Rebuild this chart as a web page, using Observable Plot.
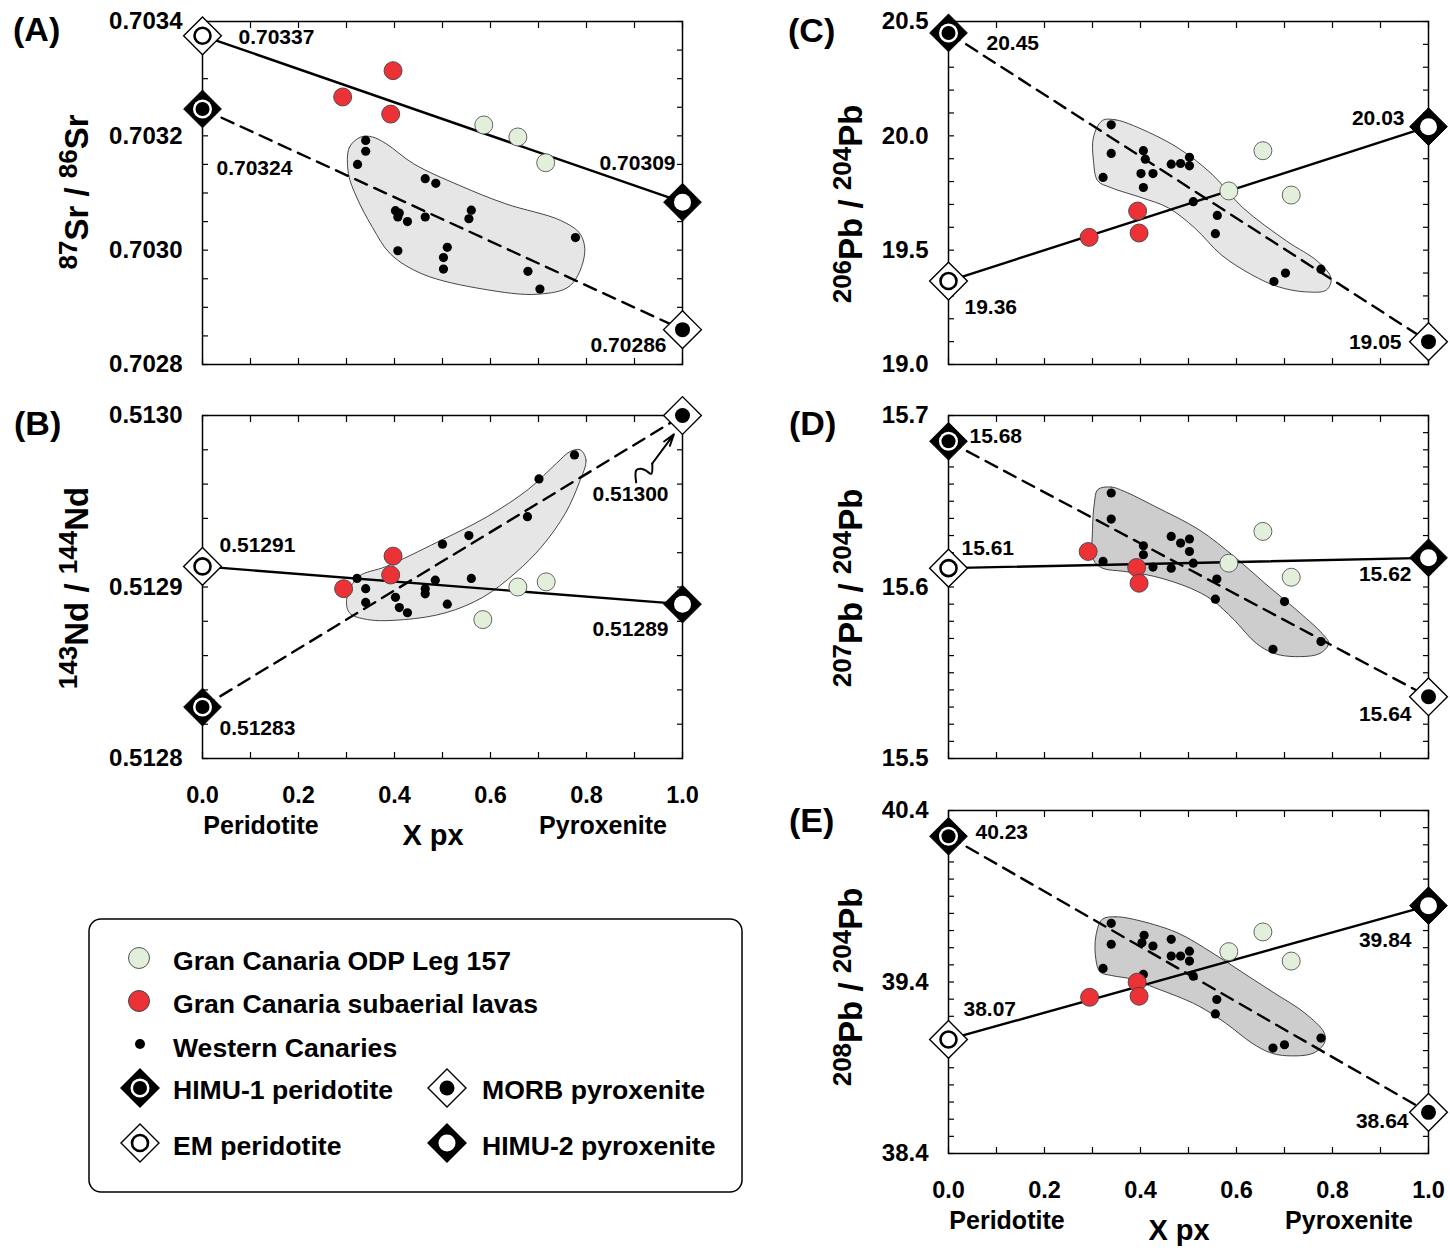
<!DOCTYPE html>
<html><head><meta charset="utf-8">
<script src="https://cdn.jsdelivr.net/npm/d3@7"></script>
<script src="https://cdn.jsdelivr.net/npm/@observablehq/plot@0.6"></script>
<style>
html,body{margin:0;padding:0;background:#fff;}
#page{position:relative;width:1450px;height:1251px;overflow:hidden;background:#fff;font-family:'Liberation Sans',Arial,Helvetica,sans-serif;}
.panel{position:absolute;}
#overlay{position:absolute;left:0;top:0;pointer-events:none;}
</style></head><body><div id="page"></div>
<script>
// ---------------- DATA ----------------
const xMajorTicks = [0, 0.2, 0.4, 0.6, 0.8, 1.0];
const xMinorTicks = d3.range(0, 1.0001, 0.1);
const endX = [0, 0, 1, 1]; // EM peridotite, HIMU-1 peridotite, HIMU-2 pyroxenite, MORB pyroxenite

// (A) 87Sr/86Sr
const srMajor = [0.7028, 0.7030, 0.7032, 0.7034];
const srMinor = d3.range(0.7028, 0.703401, 0.00005);
const srOdpX = [0.586, 0.657, 0.715];
const srOdpY = [0.703219, 0.703198, 0.703153];
const srLavaX = [0.292, 0.397, 0.392];
const srLavaY = [0.703268, 0.703314, 0.703238];
const srWcX = [0.340, 0.340, 0.323, 0.464, 0.486, 0.402, 0.410, 0.407, 0.427, 0.464, 0.560, 0.555, 0.777, 0.407, 0.510, 0.502, 0.502, 0.678, 0.703];
const srWcY = [0.703192, 0.703173, 0.703150, 0.703125, 0.703117, 0.703069, 0.703065, 0.703058, 0.703050, 0.703058, 0.703070, 0.703055, 0.703022, 0.702999, 0.703005, 0.702987, 0.702967, 0.702963, 0.702932];
const srBlobX = [0.330, 0.306, 0.304, 0.321, 0.354, 0.392, 0.459, 0.584, 0.699, 0.766, 0.796, 0.787, 0.746, 0.632, 0.536, 0.440, 0.383, 0.354];
const srBlobY = [0.703198, 0.703180, 0.703134, 0.703093, 0.703040, 0.702993, 0.702958, 0.702932, 0.702923, 0.702938, 0.702993, 0.703028, 0.703052, 0.703081, 0.703113, 0.703151, 0.703186, 0.703198];
const srEnd = [0.703375, 0.703247, 0.703084, 0.702861];
const srEndLabels = ["0.70337", "0.70324", "0.70309", "0.70286"];

// (B) 143Nd/144Nd
const ndMajor = [0.5128, 0.5129, 0.5130];
const ndMinor = d3.range(0.5128, 0.513001, 0.00002);
const ndOdpX = [0.584, 0.657, 0.716];
const ndOdpY = [0.512881, 0.512900, 0.512903];
const ndLavaX = [0.294, 0.397, 0.392];
const ndLavaY = [0.512899, 0.512918, 0.512907];
const ndWcX = [0.775, 0.701, 0.677, 0.555, 0.500, 0.560, 0.485, 0.322, 0.340, 0.464, 0.464, 0.402, 0.340, 0.510, 0.410, 0.427];
const ndWcY = [0.512977, 0.512963, 0.512941, 0.512930, 0.512925, 0.512905, 0.512904, 0.512905, 0.512899, 0.512899, 0.512896, 0.512894, 0.512891, 0.512890, 0.512888, 0.512885];
const ndBlobX = [0.787, 0.799, 0.785, 0.756, 0.708, 0.651, 0.584, 0.507, 0.421, 0.344, 0.306, 0.301, 0.325, 0.383, 0.488, 0.593, 0.679, 0.737, 0.766];
const ndBlobY = [0.512980, 0.512974, 0.512961, 0.512943, 0.512924, 0.512908, 0.512894, 0.512885, 0.512881, 0.512881, 0.512885, 0.512894, 0.512906, 0.512912, 0.512926, 0.512941, 0.512957, 0.512972, 0.512979];
const ndEnd = [0.512912, 0.512830, 0.512890, 0.513000];
const ndEndLabels = ["0.51291", "0.51283", "0.51289", "0.51300"];
const ndArrowX = [0.9035, 0.9035, 0.9125, 0.923, 0.935, 0.937];
const ndArrowY = [0.512961, 0.512968, 0.512969, 0.512968, 0.512966, 0.512972];
const ndArrowTip = [0.982, 0.512989];

// (C) 206Pb/204Pb
const pb6Major = [19.0, 19.5, 20.0, 20.5];
const pb6Minor = d3.range(19.0, 20.501, 0.1);
const pb6OdpX = [0.584, 0.655, 0.714];
const pb6OdpY = [19.759, 19.935, 19.741];
const pb6LavaX = [0.293, 0.394, 0.397];
const pb6LavaY = [19.556, 19.671, 19.575];
const pb6WcX = [0.339, 0.339, 0.322, 0.406, 0.410, 0.401, 0.426, 0.406, 0.464, 0.4835, 0.502, 0.502, 0.510, 0.560, 0.556, 0.776, 0.702, 0.678];
const pb6WcY = [20.048, 19.923, 19.818, 19.935, 19.898, 19.835, 19.835, 19.774, 19.876, 19.879, 19.906, 19.869, 19.712, 19.652, 19.572, 19.417, 19.400, 19.363];
const pb6BlobX = [0.3205, 0.348, 0.385, 0.476, 0.549, 0.6135, 0.705, 0.769, 0.797, 0.7875, 0.742, 0.687, 0.632, 0.568, 0.513, 0.458, 0.403, 0.339, 0.311, 0.302, 0.302];
const pb6BlobY = [20.067, 20.070, 20.045, 19.950, 19.832, 19.685, 19.539, 19.451, 19.377, 19.326, 19.318, 19.340, 19.392, 19.480, 19.597, 19.685, 19.729, 19.773, 19.803, 19.891, 19.994];
const pb6End = [19.365, 20.45, 20.04, 19.10];
const pb6EndLabels = ["19.36", "20.45", "20.03", "19.05"];

// (D) 207Pb/204Pb
const pb7Major = [15.5, 15.6, 15.7];
const pb7Minor = d3.range(15.5, 15.70001, 0.01);
const pb7OdpX = [0.655, 0.584, 0.714];
const pb7OdpY = [15.6324, 15.6139, 15.6057];
const pb7LavaX = [0.291, 0.392, 0.397];
const pb7LavaY = [15.6207, 15.6114, 15.6022];
const pb7WcX = [0.339, 0.339, 0.322, 0.406, 0.406, 0.426, 0.464, 0.4835, 0.502, 0.502, 0.510, 0.464, 0.559, 0.556, 0.700, 0.776, 0.676];
const pb7WcY = [15.6548, 15.6396, 15.6149, 15.6240, 15.6188, 15.6116, 15.6295, 15.6256, 15.6280, 15.6207, 15.6139, 15.6110, 15.6046, 15.5929, 15.5915, 15.5682, 15.5637];
const pb7BlobX = [0.311, 0.339, 0.366, 0.430, 0.522, 0.595, 0.659, 0.733, 0.778, 0.792, 0.774, 0.723, 0.678, 0.641, 0.595, 0.549, 0.504, 0.430, 0.366, 0.3205, 0.302, 0.300, 0.304];
const pb7BlobY = [15.6568, 15.6583, 15.6558, 15.6470, 15.6334, 15.6178, 15.6022, 15.5847, 15.5730, 15.5672, 15.5613, 15.5594, 15.5613, 15.5672, 15.5808, 15.5925, 15.5993, 15.6061, 15.6091, 15.6110, 15.6159, 15.6334, 15.6490];
const pb7End = [15.611, 15.685, 15.617, 15.536];
const pb7EndLabels = ["15.61", "15.68", "15.62", "15.64"];

// (E) 208Pb/204Pb
const pb8Major = [38.4, 39.4, 40.4];
const pb8Minor = d3.range(38.4, 40.401, 0.1);
const pb8OdpX = [0.584, 0.655, 0.714];
const pb8OdpY = [39.577, 39.692, 39.522];
const pb8LavaX = [0.294, 0.393, 0.397];
const pb8LavaY = [39.311, 39.399, 39.317];
const pb8WcX = [0.339, 0.339, 0.322, 0.4075, 0.403, 0.426, 0.464, 0.464, 0.4835, 0.502, 0.502, 0.406, 0.510, 0.559, 0.556, 0.776, 0.700, 0.676];
const pb8WcY = [39.742, 39.620, 39.479, 39.672, 39.629, 39.610, 39.649, 39.551, 39.551, 39.580, 39.522, 39.444, 39.434, 39.298, 39.214, 39.073, 39.034, 39.015];
const pb8BlobX = [0.3205, 0.348, 0.385, 0.476, 0.549, 0.6135, 0.678, 0.742, 0.783, 0.783, 0.760, 0.705, 0.669, 0.632, 0.577, 0.522, 0.476, 0.430, 0.385, 0.339, 0.316, 0.307, 0.307];
const pb8BlobY = [39.766, 39.780, 39.766, 39.688, 39.571, 39.454, 39.337, 39.220, 39.102, 39.044, 38.985, 38.970, 38.989, 39.044, 39.161, 39.259, 39.317, 39.366, 39.415, 39.438, 39.458, 39.532, 39.668];
const pb8End = [39.065, 40.25, 39.845, 38.64];
const pb8EndLabels = ["38.07", "40.23", "39.84", "38.64"];

// legend entries
const legendItems = ["Gran Canaria ODP Leg 157", "Gran Canaria subaerial lavas", "Western Canaries", "HIMU-1 peridotite", "MORB pyroxenite", "EM peridotite", "HIMU-2 pyroxenite"];

// ---------------- LAYOUT / STYLE ----------------
const RED = "#ed3237", GREEN = "#e2efda", GRAY1 = "#e6e6e6", GRAY2 = "#cdcdcd";
const FONT = "'Liberation Sans', Arial, Helvetica, sans-serif";
const PW = 480, PH = 343, ML = 130, MR = 45, MT = 25, MB = 60;
// label offsets [dx, dy, anchor] for EM, HIMU-1, HIMU-2, MORB
const layoutA = [[36, 1, "start"], [14, 59, "start"], [-7, -39, "end"], [-16, 16, "end"]];
const layoutB = [[17, -21, "start"], [17, 21, "start"], [-14, 25, "end"], [-14, 79, "end"]];
const layoutC = [[16, 26, "start"], [38, 10, "start"], [-24, -8, "end"], [-27, 1, "end"]];
const layoutD = [[13, -20, "start"], [21, -5, "start"], [-17, 16, "end"], [-17, 18, "end"]];
const layoutE = [[15, -30, "start"], [27, -4, "start"], [-17, 35, "end"], [-20, 9, "end"]];

const pts = (xs, ys) => xs.map((x, i) => ({x, y: ys[i]}));

function makePanel(p) {
  const end = endX.map((x, i) => ({x, y: p.end[i], label: p.endLabels[i]}));
  const [em, h1, h2, mo] = end;
  const tick = {tickSize: -6, fill: "none", strokeWidth: 1.2};
  const marks = [
    Plot.line(pts(p.blobX, p.blobY), {x: "x", y: "y", curve: "catmull-rom-closed", fill: p.blobFill, stroke: "#333", strokeWidth: 0.9}),
    Plot.frame({stroke: "black", strokeWidth: 1.5}),
    Plot.axisY(p.yMinor, {anchor: "left", ...tick}),
    Plot.axisY(p.yMinor, {anchor: "right", ...tick}),
    Plot.axisX(xMinorTicks, {anchor: "top", ...tick}),
    Plot.axisX(xMinorTicks, {anchor: "bottom", ...tick}),
    Plot.axisY(p.yMajor, {anchor: "left", tickSize: 0, tickPadding: 20, tickFormat: d3.format(p.yFmt), fontSize: 24, fontWeight: "bold", label: null}),
    Plot.line([em, h2], {x: "x", y: "y", stroke: "black", strokeWidth: 2.4}),
    Plot.line([h1, mo], {x: "x", y: "y", stroke: "black", strokeWidth: 2.4, strokeDasharray: "13,8"}),
    Plot.dot(pts(p.wcX, p.wcY), {x: "x", y: "y", r: 4.6, fill: "black"}),
    Plot.dot(pts(p.odpX, p.odpY), {x: "x", y: "y", r: 9, fill: GREEN, stroke: "#555", strokeWidth: 0.9}),
    Plot.dot(pts(p.lavaX, p.lavaY), {x: "x", y: "y", r: 9, fill: RED, stroke: "#444", strokeWidth: 0.9}),
    Plot.dot([h1, h2], {x: "x", y: "y", symbol: "diamond2", r: 17, fill: "black", stroke: "black", strokeWidth: 1}),
    Plot.dot([em, mo], {x: "x", y: "y", symbol: "diamond2", r: 17, fill: "white", stroke: "black", strokeWidth: 1.4}),
    Plot.dot([h1], {x: "x", y: "y", r: 9.5, fill: "white"}),
    Plot.dot([h1], {x: "x", y: "y", r: 7, fill: "black"}),
    Plot.dot([h2], {x: "x", y: "y", r: 8.5, fill: "white"}),
    Plot.dot([em], {x: "x", y: "y", r: 8, fill: "white", stroke: "black", strokeWidth: 2.6}),
    Plot.dot([mo], {x: "x", y: "y", r: 7.5, fill: "black"}),
    ...end.map((d, i) => Plot.text([d], {x: "x", y: "y", text: "label", dx: p.layout[i][0], dy: p.layout[i][1], textAnchor: p.layout[i][2], fontSize: 21, fontWeight: "bold", fill: "black"}))
  ];
  if (p.showX) marks.push(Plot.axisX(xMajorTicks, {anchor: "bottom", tickSize: 0, tickPadding: 28, tickFormat: d3.format(".1f"), fontSize: 23.5, fontWeight: "bold", label: null}));
  if (p.extra) marks.push(...p.extra);
  const svg = Plot.plot({
    width: ML + PW + MR, height: MT + PH + MB,
    marginLeft: ML, marginRight: MR, marginTop: MT, marginBottom: MB,
    x: {domain: [0, 1]}, y: {domain: p.yDomain},
    style: {background: "none", overflow: "visible", fontFamily: FONT, fontWeight: "bold", color: "black", maxWidth: "none"},
    marks
  });
  const div = document.createElement("div");
  div.className = "panel";
  div.style.left = (p.fx - ML) + "px";
  div.style.top = (p.fy - MT) + "px";
  div.style.width = (ML + PW + MR) + "px";
  div.appendChild(svg);
  document.getElementById("page").appendChild(div);
}

const arrowPts = pts(ndArrowX, ndArrowY);
const arrowLast = arrowPts[arrowPts.length - 1];

makePanel({fx: 202, fy: 21, yDomain: [0.7028, 0.7034], yMajor: srMajor, yMinor: srMinor, yFmt: ".4f",
  odpX: srOdpX, odpY: srOdpY, lavaX: srLavaX, lavaY: srLavaY, wcX: srWcX, wcY: srWcY,
  blobX: srBlobX, blobY: srBlobY, blobFill: GRAY1, end: srEnd, endLabels: srEndLabels, layout: layoutA, showX: false});
makePanel({fx: 202, fy: 415, yDomain: [0.5128, 0.5130], yMajor: ndMajor, yMinor: ndMinor, yFmt: ".4f",
  odpX: ndOdpX, odpY: ndOdpY, lavaX: ndLavaX, lavaY: ndLavaY, wcX: ndWcX, wcY: ndWcY,
  blobX: ndBlobX, blobY: ndBlobY, blobFill: GRAY1, end: ndEnd, endLabels: ndEndLabels, layout: layoutB, showX: true,
  extra: [
    Plot.line(arrowPts, {x: "x", y: "y", stroke: "black", strokeWidth: 2, curve: "catmull-rom"}),
    Plot.arrow([{x1: arrowLast.x, y1: arrowLast.y, x2: ndArrowTip[0], y2: ndArrowTip[1]}], {x1: "x1", y1: "y1", x2: "x2", y2: "y2", stroke: "black", strokeWidth: 2, headLength: 13, headAngle: 35})
  ]});
makePanel({fx: 948, fy: 21, yDomain: [19.0, 20.5], yMajor: pb6Major, yMinor: pb6Minor, yFmt: ".1f",
  odpX: pb6OdpX, odpY: pb6OdpY, lavaX: pb6LavaX, lavaY: pb6LavaY, wcX: pb6WcX, wcY: pb6WcY,
  blobX: pb6BlobX, blobY: pb6BlobY, blobFill: GRAY1, end: pb6End, endLabels: pb6EndLabels, layout: layoutC, showX: false});
makePanel({fx: 948, fy: 415, yDomain: [15.5, 15.7], yMajor: pb7Major, yMinor: pb7Minor, yFmt: ".1f",
  odpX: pb7OdpX, odpY: pb7OdpY, lavaX: pb7LavaX, lavaY: pb7LavaY, wcX: pb7WcX, wcY: pb7WcY,
  blobX: pb7BlobX, blobY: pb7BlobY, blobFill: GRAY2, end: pb7End, endLabels: pb7EndLabels, layout: layoutD, showX: false});
makePanel({fx: 948, fy: 810, yDomain: [38.4, 40.4], yMajor: pb8Major, yMinor: pb8Minor, yFmt: ".1f",
  odpX: pb8OdpX, odpY: pb8OdpY, lavaX: pb8LavaX, lavaY: pb8LavaY, wcX: pb8WcX, wcY: pb8WcY,
  blobX: pb8BlobX, blobY: pb8BlobY, blobFill: GRAY2, end: pb8End, endLabels: pb8EndLabels, layout: layoutE, showX: true});

// ---------------- OVERLAY TEXT + LEGEND ----------------
const ov = d3.create("svg").attr("id", "overlay").attr("width", 1450).attr("height", 1251)
  .attr("font-family", FONT).attr("font-weight", "bold").attr("fill", "black");

[["(A)", 13, 41], ["(B)", 14, 435], ["(C)", 788, 42], ["(D)", 789, 435], ["(E)", 789, 832]].forEach(([t, x, y]) =>
  ov.append("text").attr("x", x).attr("y", y).attr("font-size", 34).text(t));

function yLabel(x, y, parts) {
  const t = ov.append("text").attr("transform", `translate(${x},${y}) rotate(-90)`)
    .attr("text-anchor", "middle").attr("font-size", 33).style("white-space", "pre");
  let shift = 0;
  parts.forEach(([s, sup]) => {
    const target = sup ? -11 : 0;
    t.append("tspan").attr("dy", target - shift).attr("font-size", sup ? 26 : 33).text(s);
    shift = target;
  });
}
yLabel(88, 192, [["87", 1], ["Sr / ", 0], ["86", 1], ["Sr", 0]]);
yLabel(88, 588, [["143", 1], ["Nd / ", 0], ["144", 1], ["Nd", 0]]);
yLabel(862, 204, [["206", 1], ["Pb / ", 0], ["204", 1], ["Pb", 0]]);
yLabel(862, 588, [["207", 1], ["Pb / ", 0], ["204", 1], ["Pb", 0]]);
yLabel(862, 987, [["208", 1], ["Pb / ", 0], ["204", 1], ["Pb", 0]]);

[[0, 0], [746, 395]].forEach(([ox, oy]) => {
  ov.append("text").attr("x", 261 + ox).attr("y", 834 + oy).attr("text-anchor", "middle").attr("font-size", 25).text("Peridotite");
  ov.append("text").attr("x", 433 + ox).attr("y", 845 + oy).attr("text-anchor", "middle").attr("font-size", 29).text("X px");
  ov.append("text").attr("x", 603 + ox).attr("y", 834 + oy).attr("text-anchor", "middle").attr("font-size", 25).text("Pyroxenite");
});

// legend
ov.append("rect").attr("x", 89).attr("y", 919).attr("width", 653).attr("height", 273).attr("rx", 12)
  .attr("fill", "white").attr("stroke", "black").attr("stroke-width", 1.5);
const diamond = (cx, cy, h, fill) => ov.append("polygon")
  .attr("points", `${cx},${cy - h} ${cx + h},${cy} ${cx},${cy + h} ${cx - h},${cy}`)
  .attr("fill", fill).attr("stroke", "black").attr("stroke-width", 1.4);
const circ = (cx, cy, r, fill, stroke, sw) => ov.append("circle").attr("cx", cx).attr("cy", cy).attr("r", r)
  .attr("fill", fill).attr("stroke", stroke || "none").attr("stroke-width", sw || 0);
circ(139, 958, 10.5, GREEN, "#555", 1);
circ(139, 1001, 10.5, RED, "#444", 1);
circ(140, 1044, 5, "black");
diamond(140, 1088, 19, "black"); circ(140, 1088, 9.5, "white"); circ(140, 1088, 7, "black");
diamond(447, 1088, 19, "white"); circ(447, 1088, 7.5, "black");
diamond(140, 1143, 19, "white"); circ(140, 1143, 8, "white", "black", 2.6);
diamond(447, 1143, 19, "black"); circ(447, 1143, 8.5, "white");
[[173, 970], [173, 1013], [173, 1057], [173, 1099], [482, 1099], [173, 1155], [482, 1155]].forEach(([x, y], i) =>
  ov.append("text").attr("x", x).attr("y", y).attr("font-size", 26.6).text(legendItems[i]));

document.getElementById("page").appendChild(ov.node());
</script></body></html>
